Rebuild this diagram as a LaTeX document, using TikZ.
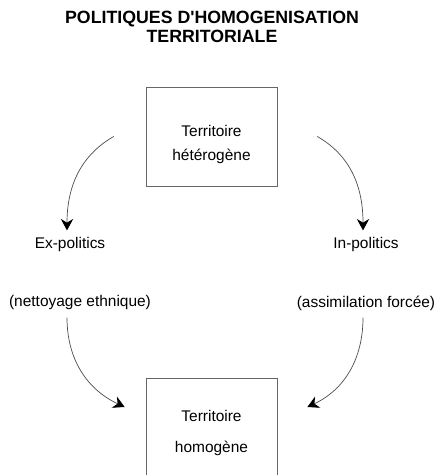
\documentclass[tikz,border=0pt]{standalone}
\usepackage{fontspec}
\setmainfont{Liberation Sans}
\usetikzlibrary{arrows.meta}
\tikzstyle{arrow} = [thin,draw=black!70,-{Stealth[length=6.5pt,width=7pt,black]}]
\tikzstyle{territ} = [draw=black!60,thin,minimum width=2.62cm,minimum height=1.98cm,inner sep=0pt]
\tikzstyle{lbl} = [font=\fontsize{8.8}{10}\selectfont,inner sep=4pt]

\begin{document}
\begin{tikzpicture}[x=0.02cm,y=0.02cm]
\useasboundingbox (0,0) rectangle (436,475);

% titre
\node [font=\bfseries\fontsize{10.1}{10.8}\selectfont, align=center] (titre) at (212,448) {POLITIQUES D\textquotesingle HOMOGENISATION\\TERRITORIALE};

% territoires
\node [territ] (hetero) at (211.5,338.5) {};
\node [lbl, align=center] (heterotxt) at (211.5,330.5) {Territoire\\[4.2pt]hétérogène};
\node [territ] (homo) at (211.5,47.5) {};
\node [lbl, align=center] (homotxt) at (211.5,42) {Territoire\\[8.2pt]homogène};

% politiques
\node [lbl] (expol) at (70,230) {Ex-politics};
\node [lbl] (nettoyage) at (80,172) {(nettoyage ethnique)};
\node [lbl] (inpol) at (366,230) {In-politics};
\node [lbl] (assimil) at (366,172) {(assimilation forcée)};

\coordinate (hetW) at ([shift={(-32,0)}]hetero.west);
\coordinate (hetE) at ([shift={(40,0)}]hetero.east);
\coordinate (homW) at ([shift={(-21,20.5)}]homo.west);
\coordinate (homE) at ([shift={(30,20.5)}]homo.east);

\draw [arrow] (hetW) to[out=210,in=90] ([shift={(-3,0)}]expol.north); % het-ex
\draw [arrow] (hetE) to[out=-30,in=90] ([shift={(-3,0)}]inpol.north); % het-in
\draw [arrow] ([shift={(-13,0)}]nettoyage.south) to[out=-90,in=155] (homW); % ex-hom
\draw [arrow] ([shift={(-3,0)}]assimil.south) to[out=-90,in=25] (homE); % in-hom

\end{tikzpicture}
\end{document}
